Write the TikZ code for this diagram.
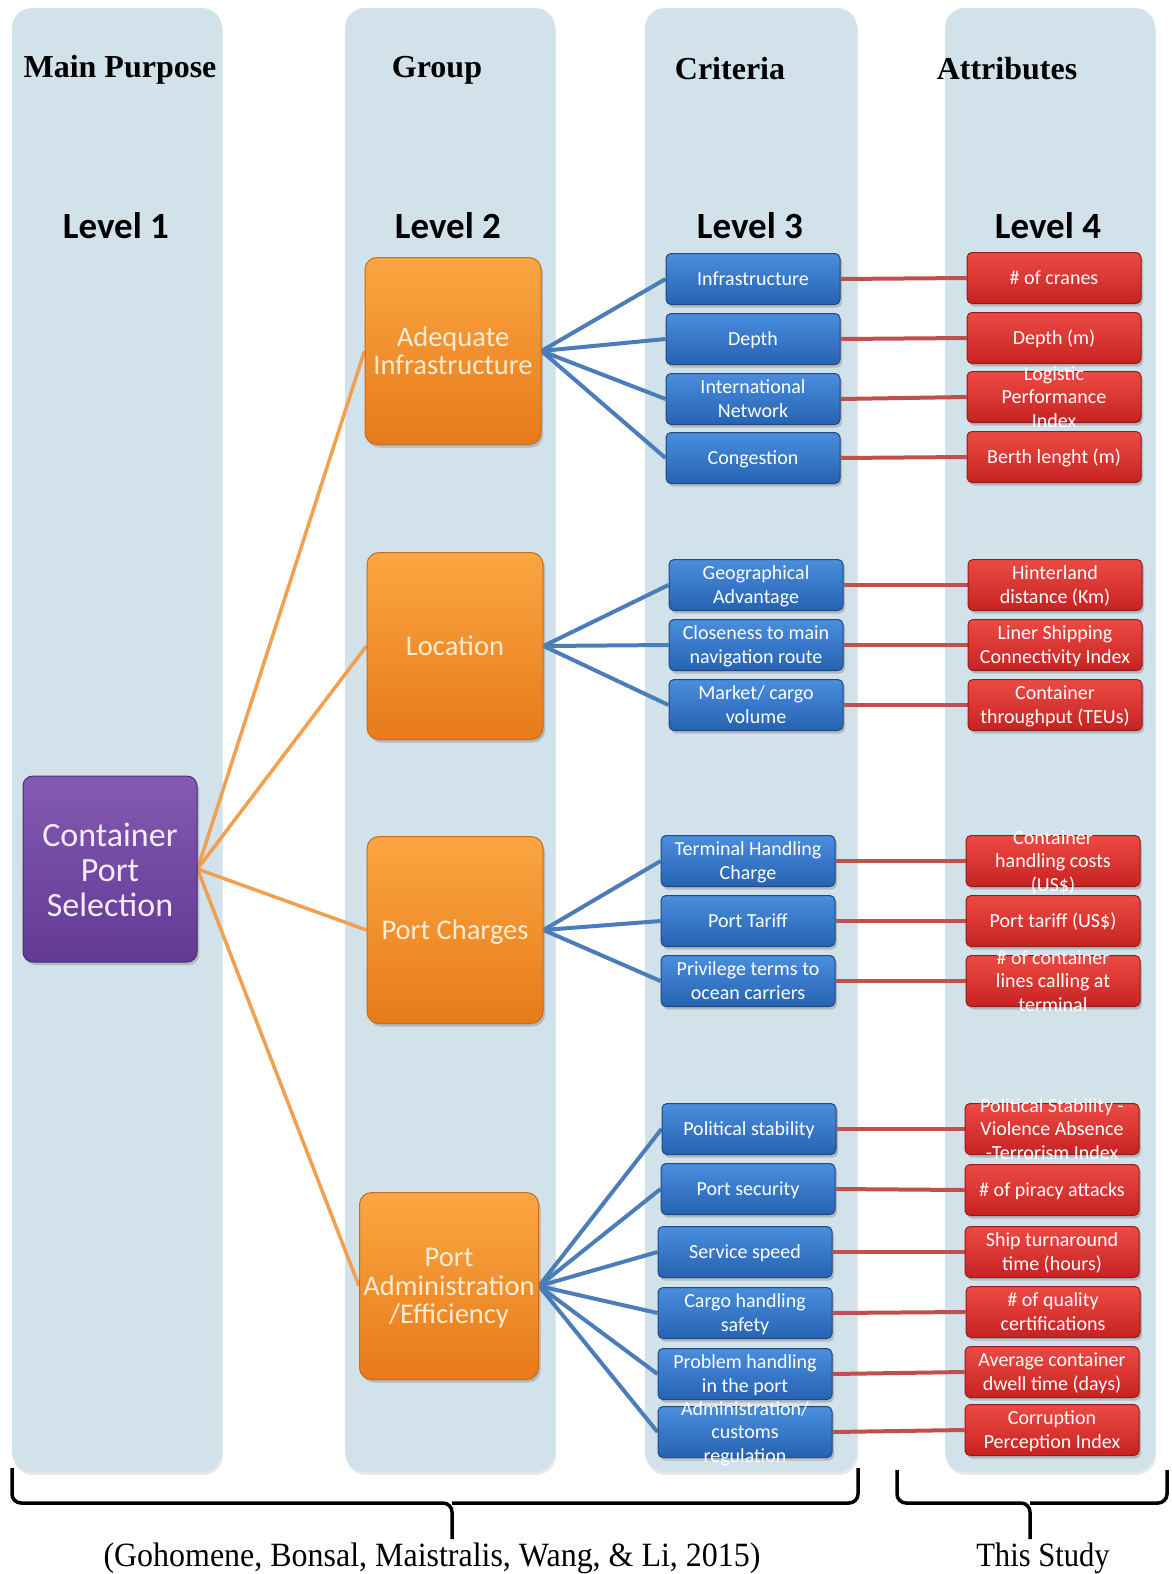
\documentclass[tikz,border=0pt]{standalone}
\usepackage{fontspec}
\setmainfont{Liberation Serif}
\newfontfamily\boxfont{Carlito}
\usetikzlibrary{shadows}
\pgfdeclarelayer{back}
\pgfdeclarelayer{links}
\pgfsetlayers{back,links,main}

\definecolor{colbg}{RGB}{209,226,234}
\definecolor{orgtop}{RGB}{250,166,66}
\definecolor{orgbot}{RGB}{232,122,26}
\definecolor{orgline}{RGB}{196,110,34}
\definecolor{orgtext}{RGB}{252,236,212}
\definecolor{purtop}{RGB}{132,90,178}
\definecolor{purbot}{RGB}{98,58,148}
\definecolor{purline}{RGB}{72,46,112}
\definecolor{purtext}{RGB}{244,236,250}
\definecolor{blutop}{RGB}{74,142,222}
\definecolor{blubot}{RGB}{38,98,178}
\definecolor{bluline}{RGB}{34,72,128}
\definecolor{redtop}{RGB}{238,74,68}
\definecolor{redbot}{RGB}{198,34,34}
\definecolor{redline}{RGB}{146,28,28}
\definecolor{linkblue}{RGB}{74,125,186}
\definecolor{linkred}{RGB}{192,80,77}
\definecolor{linkorange}{RGB}{242,160,80}

% centred multi-line label that may spill over its box
\newcommand{\bt}[1]{\smash{\raisebox{-0.35em}{\begin{tabular}{@{}c@{}}#1\end{tabular}}}}

\tikzset{
  column/.style={fill=colbg, rounded corners=20pt,
    drop shadow={shadow xshift=1pt, shadow yshift=-3pt, opacity=0.18}},
  boxbase/.style={inner sep=0pt, line width=1pt, align=center,
    drop shadow={shadow xshift=2pt, shadow yshift=-3pt, opacity=0.4}},
  mainbox/.style={boxbase, rounded corners=10pt, minimum width=174pt, minimum height=186pt,
    top color=purtop, bottom color=purbot, draw=purline, text=purtext,
    font=\boxfont\fontsize{34}{35}\selectfont},
  grpbox/.style={boxbase, rounded corners=12pt, minimum width=176pt, minimum height=187pt,
    top color=orgtop, bottom color=orgbot, draw=orgline, text=orgtext,
    font=\boxfont\fontsize{28.5}{28.5}\selectfont},
  critbox/.style={boxbase, rounded corners=5pt, minimum width=174pt, minimum height=51pt,
    top color=blutop, bottom color=blubot, draw=bluline, text=white,
    font=\boxfont\fontsize{20}{23.5}\selectfont},
  attrbox/.style={boxbase, rounded corners=5pt, minimum width=174pt, minimum height=51pt,
    top color=redtop, bottom color=redbot, draw=redline, text=white,
    font=\boxfont\fontsize{20}{23.5}\selectfont},
  heading/.style={font=\bfseries\fontsize{32}{34}\selectfont, text=black},
  levelhead/.style={font=\boxfont\bfseries\fontsize{37}{38}\selectfont, text=black},
  orangelink/.style={draw=linkorange, line width=3.5pt},
  bluelink/.style={draw=linkblue, line width=4pt},
  redlink/.style={draw=linkred, line width=4pt},
  bracket/.style={draw=black, line width=3.5pt, rounded corners=9pt},
  foot/.style={font=\fontsize{34}{36}\selectfont, text=black, anchor=base}
}

\begin{document}
\begin{tikzpicture}[x=1pt,y=-1pt]
\useasboundingbox (0,0) rectangle (1171,1574);

% page and column backgrounds
\begin{pgfonlayer}{back}
  \fill[white] (0,0) rectangle (1171,1574);
  \fill[column] (12,8) rectangle (222,1472);
  \fill[column] (345,8) rectangle (555,1472);
  \fill[column] (645,8) rectangle (857,1472);
  \fill[column] (945,8) rectangle (1155,1472);
\end{pgfonlayer}

% column headings
\node[heading] (hmain) at (120,70) {Main Purpose};
\node[heading] (hgroup) at (437,70) {Group};
\node[heading] (hcrit) at (730,69) {Criteria};
\node[heading] (hattr) at (1007,69) {Attributes};

\node[levelhead] (lv1) at (116,226) {Level 1};
\node[levelhead] (lv2) at (448,226) {Level 2};
\node[levelhead] (lv3) at (750,226) {Level 3};
\node[levelhead] (lv4) at (1048,226) {Level 4};

% level 1
\node[mainbox] (cps) at (110,869) {\bt{Container\\Port\\Selection}};

% level 2
\node[grpbox] (g1) at (453,351) {\bt{Adequate\\Infrastructure}};
\node[grpbox] (g2) at (455,646) {\bt{Location}};
\node[grpbox] (g3) at (455,930) {\bt{Port Charges}};
\node[grpbox, minimum width=179pt] (g4) at (449,1286) {\bt{Port\\Administration\\/Efficiency}};

% level 3
\node[critbox] (c11) at (753,279) {\bt{Infrastructure}};
\node[critbox] (c12) at (753,339) {\bt{Depth}};
\node[critbox] (c13) at (753,399) {\bt{International\\Network}};
\node[critbox] (c14) at (753,458) {\bt{Congestion}};

\node[critbox] (c21) at (756,585) {\bt{Geographical\\Advantage}};
\node[critbox] (c22) at (756,645) {\bt{Closeness to main\\navigation route}};
\node[critbox] (c23) at (756,705) {\bt{Market/ cargo\\volume}};

\node[critbox] (c31) at (748,861) {\bt{Terminal Handling\\Charge}};
\node[critbox] (c32) at (748,921) {\bt{Port Tariff}};
\node[critbox] (c33) at (748,981) {\bt{Privilege terms to\\ocean carriers}};

\node[critbox] (c41) at (749,1129) {\bt{Political stability}};
\node[critbox] (c42) at (748,1189) {\bt{Port security}};
\node[critbox] (c43) at (745,1252) {\bt{Service speed}};
\node[critbox] (c44) at (745,1313) {\bt{Cargo handling\\safety}};
\node[critbox] (c45) at (745,1374) {\bt{Problem handling\\in the port}};
\node[critbox] (c46) at (745,1432) {\bt{Administration/\\customs\\regulation}};

% level 4
\node[attrbox] (a11) at (1054,278) {\bt{\# of cranes}};
\node[attrbox] (a12) at (1054,338) {\bt{Depth (m)}};
\node[attrbox] (a13) at (1054,397) {\bt{Logistic\\Performance\\Index}};
\node[attrbox] (a14) at (1054,457) {\bt{Berth lenght (m)}};

\node[attrbox] (a21) at (1055,585) {\bt{Hinterland\\distance (Km)}};
\node[attrbox] (a22) at (1055,645) {\bt{Liner Shipping\\Connectivity Index}};
\node[attrbox] (a23) at (1055,705) {\bt{Container\\throughput (TEUs)}};

\node[attrbox] (a31) at (1053,861) {\bt{Container\\handling costs\\(US\$)}};
\node[attrbox] (a32) at (1053,921) {\bt{Port tariff (US\$)}};
\node[attrbox] (a33) at (1053,981) {\bt{\# of container\\lines calling at\\terminal}};

\node[attrbox] (a41) at (1052,1129) {\bt{Political Stability -\\Violence Absence\\-Terrorism Index}};
\node[attrbox] (a42) at (1052,1190) {\bt{\# of piracy attacks}};
\node[attrbox] (a43) at (1052,1252) {\bt{Ship turnaround\\time (hours)}};
\node[attrbox] (a44) at (1053,1312) {\bt{\# of quality\\certifications}};
\node[attrbox] (a45) at (1052,1372) {\bt{Average container\\dwell time (days)}};
\node[attrbox] (a46) at (1052,1430) {\bt{Corruption\\Perception Index}};

% connectors
\begin{pgfonlayer}{links}
  \foreach \g in {g1,g2,g3,g4} \draw[orangelink] (cps.east) -- (\g.west);
  \foreach \c in {c11,c12,c13,c14} \draw[bluelink] (g1.east) -- (\c.west);
  \foreach \c in {c21,c22,c23} \draw[bluelink] (g2.east) -- (\c.west);
  \foreach \c in {c31,c32,c33} \draw[bluelink] (g3.east) -- (\c.west);
  \foreach \c in {c41,c42,c43,c44,c45,c46} \draw[bluelink] (g4.east) -- (\c.west);
  \foreach \i in {11,12,13,14,21,22,23,31,32,33,41,42,43,44,45,46}
    \draw[redlink] (c\i.east) -- (a\i.west);
\end{pgfonlayer}

% brackets under the columns
\coordinate (bl1) at (12,1468);
\coordinate (bm1) at (452,1503);
\coordinate (br1) at (858,1468);
\coordinate (bl2) at (897,1470);
\coordinate (bm2) at (1030,1503);
\coordinate (br2) at (1167,1470);
\draw[bracket] (bl1) |- (bm1) -- ++(0,36);
\draw[bracket] (bm1) -| (br1);
\draw[bracket] (bl2) |- (bm2) -- ++(0,36);
\draw[bracket] (bm2) -| (br2);

\node[foot] (src) at (432,1566) {\scalebox{0.94}[1]{(Gohomene, Bonsal, Maistralis, Wang, \& Li, 2015)}};
\node[foot] (own) at (1043,1566) {\scalebox{0.9}[1]{This Study}};
\end{tikzpicture}
\end{document}
